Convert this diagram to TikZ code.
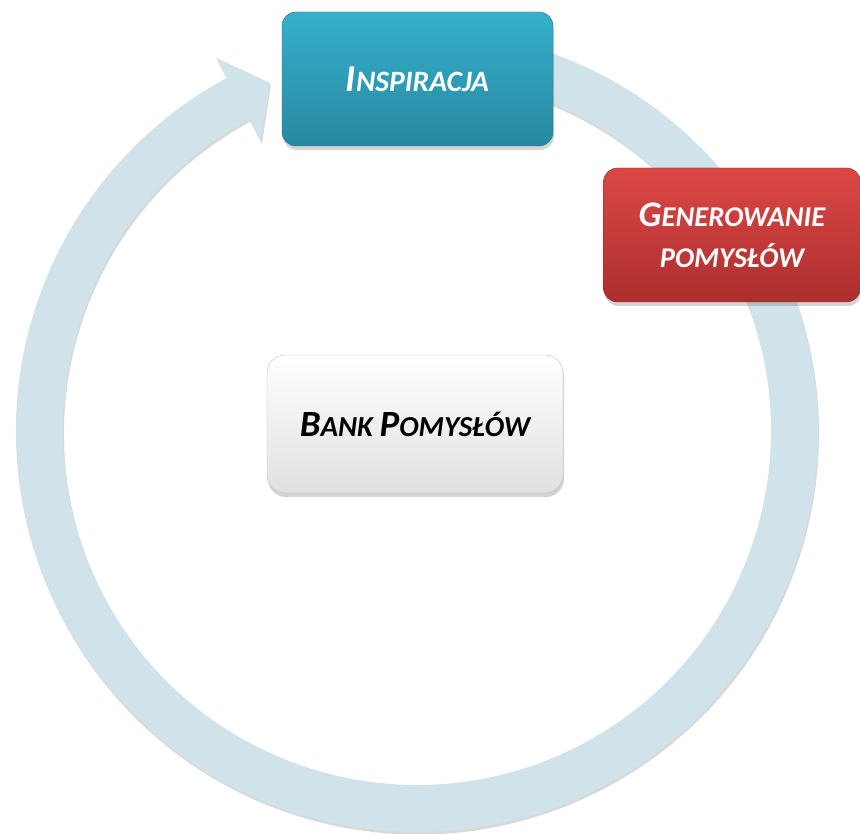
\documentclass[tikz,border=0pt]{standalone}
\usepackage{fontspec}
\setmainfont{Carlito}
\usetikzlibrary{shadows}

\definecolor{ringblue}{RGB}{208,226,234}
\definecolor{tealtop}{RGB}{54,176,204}
\definecolor{tealbot}{RGB}{40,136,162}
\definecolor{redtop}{RGB}{220,72,70}
\definecolor{redbot}{RGB}{172,46,46}

% first letter big, the rest as small capitals
\newcommand{\fakesc}[4]{{\fontsize{#1}{#1}\selectfont #3}{\fontsize{#2}{#2}\selectfont #4}}

\begin{document}
\begin{tikzpicture}[x=1pt, y=1pt,
        box/.style={rectangle, rounded corners=14pt, inner sep=0pt, align=center, font=\bfseries\itshape,
                    drop shadow={shadow xshift=1pt, shadow yshift=-4pt, opacity=0.35}},
        tealbox/.style={box, draw=tealbot!80!black, top color=tealtop, bottom color=tealbot, text=white,
                    minimum width=271pt, minimum height=134pt},
        redbox/.style={box, draw=redbot!80!black, top color=redtop, bottom color=redbot, text=white,
                    minimum width=257pt, minimum height=134pt},
        whitebox/.style={box, rounded corners=18pt, draw=black!25, top color=white, bottom color=black!12, text=black,
                    minimum width=296pt, minimum height=138pt},
        ring/.style={fill=ringblue, drop shadow={shadow xshift=1pt, shadow yshift=-2.5pt, opacity=0.3}}
    ]
    \useasboundingbox (0,0) rectangle (860,834);

    % Cycle arrow
    \begin{scope}[shift={(417,403)}]
        \fill[ring] (75:401) arc[start angle=75, end angle=-241.7, radius=401]
            -- (118.3:424) -- (112.9:378) -- (118.3:329) -- (118.3:354)
            arc[start angle=-241.7, end angle=75, radius=354] -- cycle;
    \end{scope}

    % Steps
    \node[tealbox] (insp) at (417.5,755) {\fakesc{38}{29.5}{I}{NSPIRACJA}};
    \node[redbox, font=\bfseries\itshape\fontsize{28.6}{41}\selectfont] (gen) at (732,599)
        {{\fontsize{36}{41}\selectfont G}ENEROWANIE\\POMYSŁÓW};

    % Centre
    \node[whitebox, font=\bfseries\itshape\fontsize{29}{36}\selectfont] (bank) at (415,410)
        {{\fontsize{37}{36}\selectfont B}ANK\ {\fontsize{37}{36}\selectfont P}OMYSŁÓW};

\end{tikzpicture}
\end{document}
